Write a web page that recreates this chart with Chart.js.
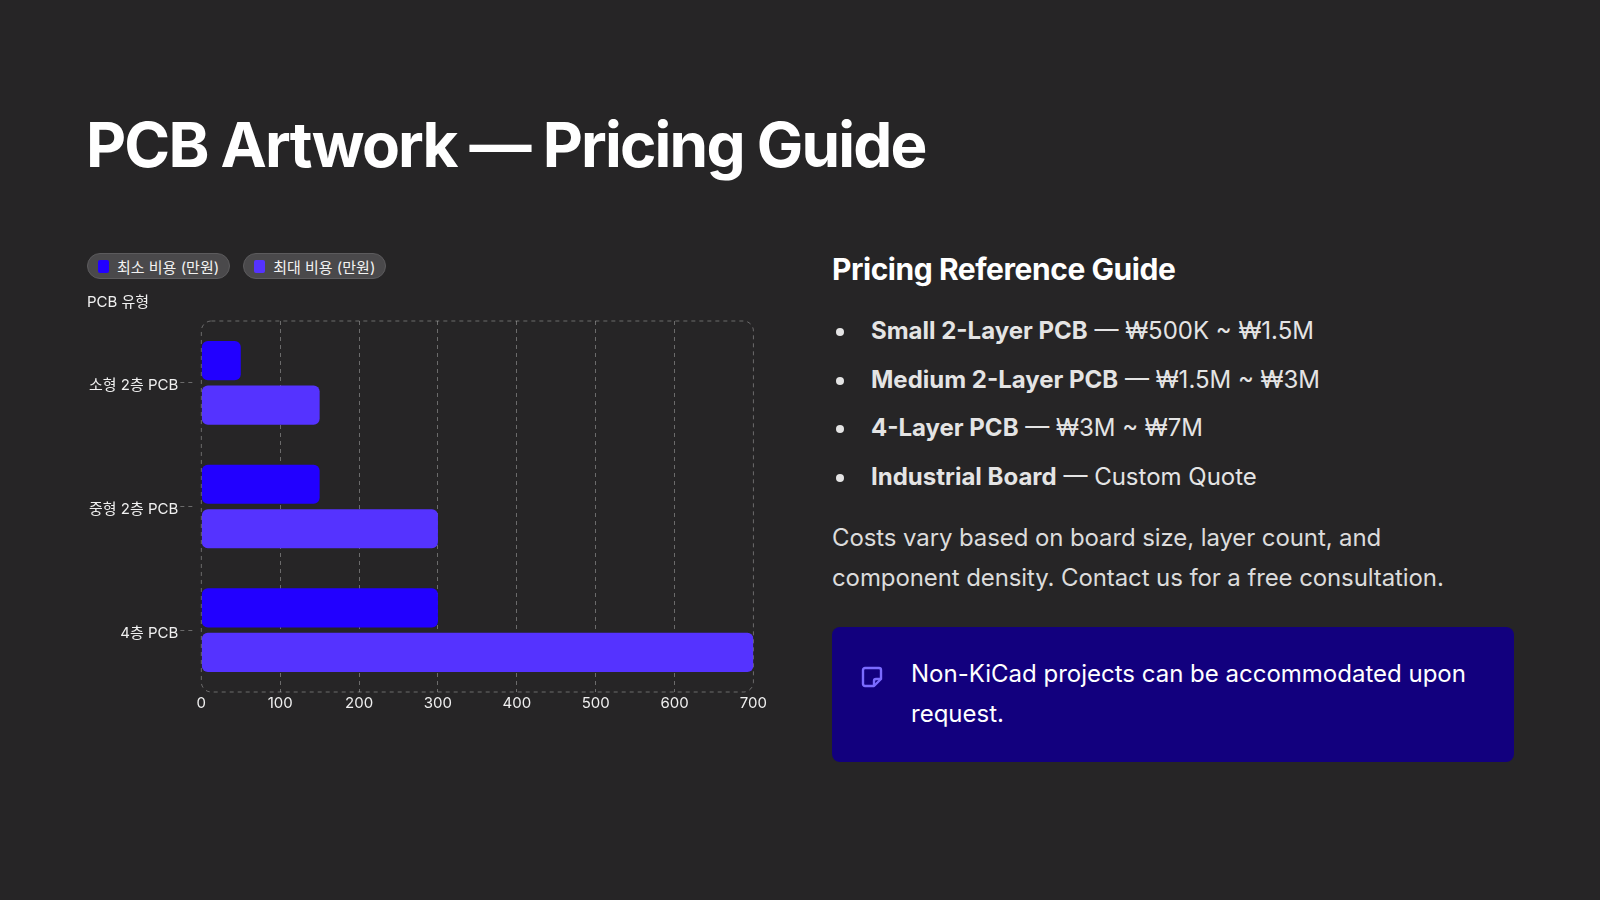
<!DOCTYPE html>
<html lang="ko">
<head>
<meta charset="utf-8">
<title>PCB Artwork — Pricing Guide</title>
<script src="https://cdn.jsdelivr.net/npm/chart.js@4.4.1/dist/chart.umd.min.js"></script>
<style>
  html, body {
    margin: 0;
    padding: 0;
    width: 1600px;
    height: 900px;
    background: #262526;
    overflow: hidden;
    font-family: Inter, "Noto Sans CJK KR", "Noto Sans", sans-serif;
    color: #f2f2f2;
  }
  h1 {
    position: absolute;
    left: 86px;
    top: 107px;
    margin: 0;
    font-size: 62px;
    font-weight: 700;
    letter-spacing: -1.8px;
    color: #ffffff;
  }
  #legend {
    position: absolute;
    left: 87px;
    top: 253px;
    display: flex;
    gap: 13px;
  }
  .pill {
    display: flex;
    align-items: center;
    height: 24px;
    padding: 0 10px 0 10px;
    border-radius: 14px;
    background: #4a494b;
    border: 1px solid #5c5b5d;
    font-size: 15px;
    color: #f2f2f2;
  }
  .pill i {
    display: inline-block;
    width: 11px;
    height: 13px;
    border-radius: 2px;
    margin-right: 8px;
  }
  #chartBox {
    position: absolute;
    left: 87px;
    top: 288px;
    width: 682px;
    height: 426px;
  }
  #side {
    position: absolute;
    left: 832px;
    top: 251px;
    width: 684px;
  }
  #side h2 {
    margin: 0 0 20px 0;
    font-size: 30px;
    font-weight: 700;
    letter-spacing: -0.45px;
    color: #ffffff;
  }
  #side ul {
    margin: 0;
    padding: 0 0 0 39px;
    list-style: none;
  }
  #side li {
    position: relative;
    font-size: 24px;
    line-height: 48.5px;
    color: #e4e4e4;
  }
  #side li::before {
    content: "";
    position: absolute;
    left: -35px;
    top: 21px;
    width: 8px;
    height: 8px;
    border-radius: 50%;
    background: #e4e4e4;
  }
  #side li b { font-weight: 700; }
  #side p {
    width: 640px;
    margin: 17px 0 0 0;
    font-size: 24px;
    line-height: 40px;
    color: #dcdcdc;
    letter-spacing: -0.1px;
  }
  .note {
    position: absolute;
    left: 832px;
    top: 627px;
    width: 682px;
    height: 135px;
    box-sizing: border-box;
    background: #12007e;
    border-radius: 8px;
    padding: 27px 30px 0 79px;
    font-size: 24px;
    line-height: 40px;
    color: #ffffff;
  }
  .note svg {
    position: absolute;
    left: 28px;
    top: 38px;
  }
</style>
</head>
<body>
<h1>PCB Artwork — Pricing Guide</h1>

<div id="legend"></div>
<div id="chartBox"><canvas id="priceChart"></canvas></div>

<div id="side">
  <h2>Pricing Reference Guide</h2>
  <ul>
    <li><b>Small 2-Layer PCB</b> — ₩500K ~ ₩1.5M</li>
    <li><b>Medium 2-Layer PCB</b> — ₩1.5M ~ ₩3M</li>
    <li><b>4-Layer PCB</b> — ₩3M ~ ₩7M</li>
    <li><b>Industrial Board</b> — Custom Quote</li>
  </ul>
  <p>Costs vary based on board size, layer count, and component density. Contact us for a free consultation.</p>
</div>

<div class="note">
  <svg width="24" height="24" viewBox="0 0 24 24" fill="none" stroke="#7b6bff" stroke-width="2.4" stroke-linejoin="round">
    <path d="M5 3h14a2 2 0 0 1 2 2v9l-7 7H5a2 2 0 0 1-2-2V5a2 2 0 0 1 2-2z"/>
    <path d="M14 21v-5a2 2 0 0 1 2-2h5"/>
  </svg>
  Non-KiCad projects can be accommodated upon request.
</div>

<script>
// data
const boardTypes = ['소형 2층 PCB', '중형 2층 PCB', '4층 PCB'];
const minCost = [50, 150, 300];
const maxCost = [150, 300, 700];
const seriesNames = ['최소 비용 (만원)', '최대 비용 (만원)'];
const seriesColors = ['#2200ff', '#5533ff'];
const axisMax = 700;
const axisStep = 100;
const yAxisTitle = 'PCB 유형';

const tickColor = '#f0f0f0';
const gridColor = 'rgba(255,255,255,0.32)';
const chartFont = 'Inter, "Noto Sans CJK KR"';

// dashed rounded frame around the plot area
const frame = {
    id: 'frame',
    beforeDatasetsDraw(chart) {
        const { ctx, chartArea: a } = chart;
        ctx.save();
        ctx.strokeStyle = gridColor;
        ctx.lineWidth = 1;
        ctx.setLineDash([4, 4]);
        ctx.beginPath();
        ctx.roundRect(a.left, a.top, a.right - a.left, a.bottom - a.top, 10);
        ctx.stroke();
        ctx.restore();
    }
};

function buildLegend() {
    const box = document.getElementById('legend');
    seriesNames.forEach((name, i) => {
        const pill = document.createElement('div');
        pill.className = 'pill';
        pill.innerHTML = `<i style="background:${seriesColors[i]}"></i>${name}`;
        box.appendChild(pill);
    });
}

function renderChart() {
    const ctx = document.getElementById('priceChart').getContext('2d');
    new Chart(ctx, {
        type: 'bar',
        data: {
            labels: boardTypes,
            datasets: [
                { label: seriesNames[0], data: minCost, backgroundColor: seriesColors[0] },
                { label: seriesNames[1], data: maxCost, backgroundColor: seriesColors[1] }
            ]
        },
        options: {
            indexAxis: 'y',
            responsive: true,
            maintainAspectRatio: false,
            animation: false,
            datasets: {
                bar: {
                    categoryPercentage: 0.72,
                    barPercentage: 0.88,
                    borderRadius: 6,
                    borderSkipped: false
                }
            },
            layout: { padding: { right: 0 } },
            scales: {
                x: {
                    min: 0,
                    max: axisMax,
                    ticks: {
                        stepSize: axisStep,
                        color: tickColor,
                        font: { family: chartFont, size: 15 },
                        padding: 2
                    },
                    grid: {
                        color: c => (c.tick && (c.tick.value === 0 || c.tick.value === axisMax)) ? 'transparent' : gridColor,
                        drawTicks: false
                    },
                    border: { display: false, dash: [4, 4] }
                },
                y: {
                    ticks: {
                        color: tickColor,
                        font: { family: chartFont, size: 15 },
                        padding: 2,
                        labelOffset: 3
                    },
                    grid: {
                        offset: false,
                        drawOnChartArea: false,
                        color: gridColor,
                        tickLength: 21,
                        tickBorderDash: [4, 4, 4, 9]
                    },
                    border: { display: false }
                }
            },
            plugins: {
                legend: { display: false },
                tooltip: { enabled: false },
                title: {
                    display: true,
                    text: yAxisTitle,
                    align: 'start',
                    color: tickColor,
                    font: { family: chartFont, size: 15, weight: 'normal' },
                    padding: { top: 5, bottom: 10 }
                }
            }
        },
        plugins: [frame]
    });
}

buildLegend();
renderChart();
</script>
</body>
</html>
